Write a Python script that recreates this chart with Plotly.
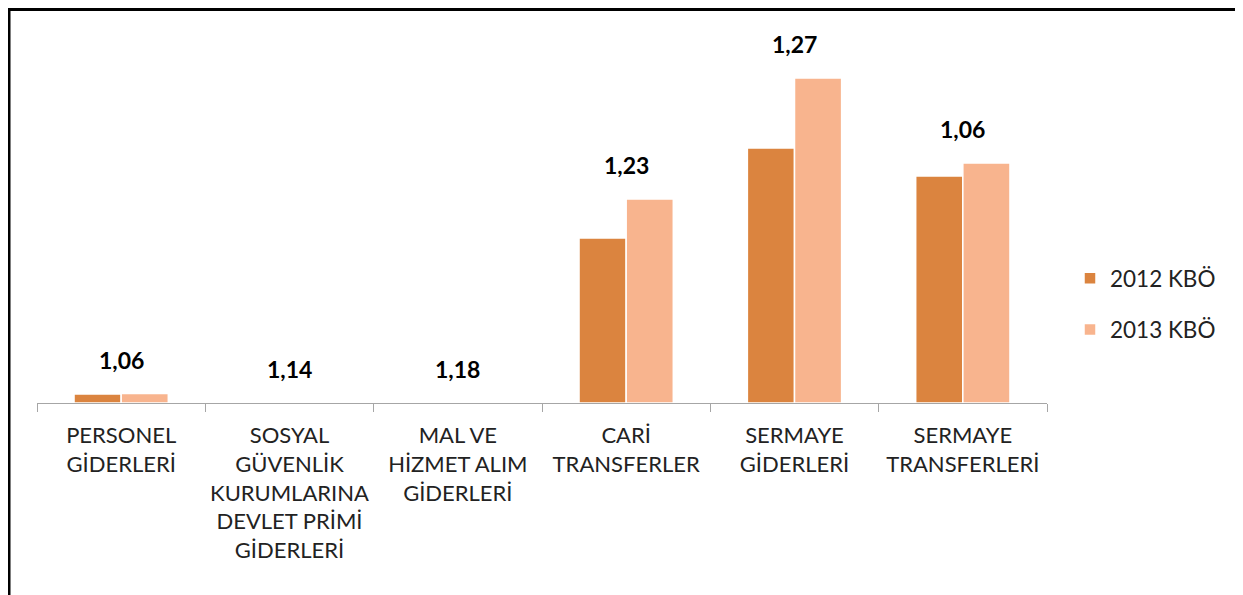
import plotly.graph_objects as go

# Kategoriler (ekonomik sınıflandırma)
categories = [
    "PERSONEL<br>GİDERLERİ",
    "SOSYAL<br>GÜVENLİK<br>KURUMLARINA<br>DEVLET PRİMİ<br>GİDERLERİ",
    "MAL VE<br>HİZMET ALIM<br>GİDERLERİ",
    "CARİ<br>TRANSFERLER",
    "SERMAYE<br>GİDERLERİ",
    "SERMAYE<br>TRANSFERLERİ",
]

# Seriler (göreli büyüklükler)
kbo_2012 = [9.0, 0.4, 0.4, 165, 255, 227]
kbo_2013 = [9.5, 0.45, 0.45, 204, 325, 240]

# 2013 / 2012 oranları
ratios = ["1,06", "1,14", "1,18", "1,23", "1,27", "1,06"]

FONT = "Lato"
W, H = 1243, 595
# sayfa gövdesi 8px kaydırıyor, kenar boşlukları buna göre
ML, MR, MT, MB = 29, 204, 0, 200

fig = go.Figure()

fig.add_trace(go.Bar(
    x=categories, y=kbo_2012, name="2012 KBÖ",
    marker=dict(color="#DB843F", line=dict(color="white", width=1.5)),
    legendgroup="a",
))
fig.add_trace(go.Bar(
    x=categories, y=kbo_2013, name="2013 KBÖ",
    marker=dict(color="#F8B48E", line=dict(color="white", width=1.5)),
    legendgroup="b",
))

# Oran etiketleri
for cat, a, b, r in zip(categories, kbo_2012, kbo_2013, ratios):
    fig.add_annotation(
        x=cat, y=max(a, b), text=f"<b>{r}</b>",
        showarrow=False, yanchor="middle", yshift=34,
        font=dict(family=FONT, size=23, color="black"),
    )

# Dış çerçeve
pw = W - ML - MR
ph = H - MT - MB
fig.add_shape(
    type="rect", xref="paper", yref="paper",
    x0=(1 - ML) / pw, x1=(1233 - ML) / pw,
    y0=-0.6, y1=(H - MB - 1.5) / ph,
    line=dict(color="black", width=3),
)

fig.update_layout(
    width=W, height=H,
    margin=dict(l=ML, r=MR, t=MT, b=MB, autoexpand=False),
    paper_bgcolor="white", plot_bgcolor="white",
    barmode="group", bargap=0.44, bargroupgap=0.0,
    font=dict(family=FONT, size=22, color="#222"),
    legend=dict(
        x=(1062 - ML) / pw, y=(H - MB - 249) / ph,
        xanchor="left", yanchor="top",
        font=dict(family=FONT, size=22.5, color="#222"),
        tracegroupgap=19, traceorder="grouped",
    ),
    showlegend=True,
)

fig.update_xaxes(
    range=[-0.5, 5.5],
    showline=True, linecolor="#A6A6A6", linewidth=1,
    ticks="outside", tickson="boundaries", ticklen=8, tickcolor="#A6A6A6",
    ticklabelstandoff=13, tickangle=0,
    tickfont=dict(family=FONT, size=22, color="#222"),
    showgrid=False, zeroline=False,
)
fig.update_yaxes(
    range=[0, ph], visible=False, showgrid=False, zeroline=False,
)

fig.write_html("out.html")
